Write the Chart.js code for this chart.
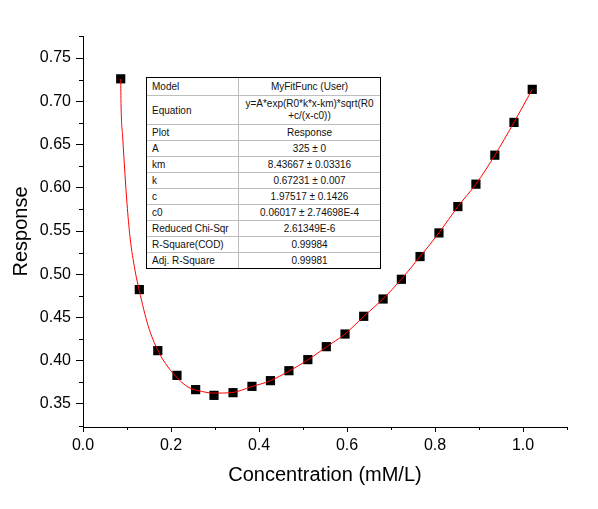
<!DOCTYPE html>
<html>
<head>
<meta charset="utf-8">
<script src="https://cdn.jsdelivr.net/npm/chart.js@4"></script>
<style>
  body { margin: 0; background: #fff; }
  #wrap { position: relative; width: 598px; height: 509px; }
  #fitTable {
    position: absolute; left: 146px; top: 77px; width: 233px;
    border: 1px solid #000; background: #fff;
    font-family: 'Liberation Sans', Arial, sans-serif; font-size: 10px; color: #111;
  }
  .row { display: flex; box-sizing: border-box; border-top: 1px solid #bdbdbd; }
  .row:first-child { border-top: none; }
  .lab { width: 92px; box-sizing: border-box; border-right: 1px solid #bdbdbd; padding-left: 5px; display: flex; align-items: center; }
  .val { flex: 1; text-align: center; display: flex; align-items: center; justify-content: center; line-height: 12px; }
</style>
</head>
<body>
<div id="wrap">
  <canvas id="fitChart" width="598" height="509"></canvas>
  <div id="fitTable"></div>
</div>
<script>
// measured points (Concentration, Response)
const conc = [0.0857, 0.128, 0.170, 0.2136, 0.256, 0.2977, 0.341, 0.384, 0.426, 0.468, 0.511, 0.553,
              0.5955, 0.638, 0.682, 0.7236, 0.766, 0.809, 0.852, 0.893, 0.936, 0.9795, 1.021];
const resp = [0.726, 0.4823, 0.4117, 0.3831, 0.3666, 0.3600, 0.3631, 0.3704, 0.3770, 0.3885, 0.4013, 0.4163,
              0.4309, 0.4514, 0.4714, 0.4942, 0.5205, 0.5478, 0.5783, 0.6042, 0.6377, 0.6756, 0.7138];

// fitted curve
const fitX = [0.0857, 0.0864, 0.0902, 0.0948, 0.1000, 0.1068, 0.1182, 0.128, 0.1477, 0.170, 0.1932, 0.2159,
              0.2386, 0.2691, 0.2993, 0.3373, 0.383, 0.426, 0.468, 0.511, 0.553, 0.5955, 0.638, 0.682,
              0.7236, 0.766, 0.809, 0.852, 0.893, 0.936, 0.9795, 1.021];
const fitY = [0.726, 0.6976, 0.6589, 0.6204, 0.5818, 0.5432, 0.5046, 0.4810, 0.4410, 0.4120, 0.3927, 0.3793,
              0.3696, 0.3646, 0.3626, 0.3631, 0.3700, 0.3770, 0.3880, 0.4010, 0.4160, 0.4310, 0.4512, 0.4716,
              0.4942, 0.5205, 0.5478, 0.5783, 0.6042, 0.6377, 0.6756, 0.7138];

const xTicks = [0.0, 0.2, 0.4, 0.6, 0.8, 1.0];
const xMinor = [0.1, 0.3, 0.5, 0.7, 0.9, 1.1];
const yTicks = [0.35, 0.40, 0.45, 0.50, 0.55, 0.60, 0.65, 0.70, 0.75];
const yMinor = [0.325, 0.375, 0.425, 0.475, 0.525, 0.575, 0.625, 0.675, 0.725, 0.775];

const tableLabels = ['Model', 'Equation', 'Plot', 'A', 'km', 'k', 'c', 'c0', 'Reduced Chi-Sqr', 'R-Square(COD)', 'Adj. R-Square'];
const tableValues = ['MyFitFunc (User)', 'y=A*exp(R0*k*x-km)*sqrt(R0<br>+c/(x-c0))', 'Response', '325 \u00b1 0',
                     '8.43667 \u00b1 0.03316', '0.67231 \u00b1 0.007', '1.97517 \u00b1 0.1426', '0.06017 \u00b1 2.74698E-4',
                     '2.61349E-6', '0.99984', '0.99981'];

// results table
const tbl = document.getElementById('fitTable');
tableLabels.forEach((lab, i) => {
    const row = document.createElement('div');
    row.className = 'row';
    row.style.height = (i === 0 ? 17 : i === 1 ? 29 : 16) + 'px';
    row.innerHTML = '<div class="lab">' + lab + '</div><div class="val">' + tableValues[i] + '</div>';
    tbl.appendChild(row);
});

const FONT = "'Liberation Sans', Arial, sans-serif";

// short minor ticks on both axes
const minorTicks = {
    id: 'minorTicks',
    afterDraw(chart) {
        const ctx = chart.ctx;
        const xs = chart.scales.x, ys = chart.scales.y;
        ctx.save();
        ctx.strokeStyle = '#000';
        ctx.lineWidth = 1;
        ctx.beginPath();
        for (const v of xMinor) {
            const px = Math.round(xs.getPixelForValue(v)) + 0.5;
            ctx.moveTo(px, xs.top);
            ctx.lineTo(px, xs.top + 3);
        }
        for (const v of yMinor) {
            const py = Math.round(ys.getPixelForValue(v)) + 0.5;
            ctx.moveTo(ys.right, py);
            ctx.lineTo(ys.right - 4, py);
        }
        ctx.stroke();
        ctx.restore();
    }
};

const ctx = document.getElementById('fitChart').getContext('2d');
const myChart = new Chart(ctx, {
    type: 'scatter',
    data: {
        datasets: [{
            label: 'Fit',
            data: fitX.map((x, i) => ({x: x, y: fitY[i]})),
            showLine: true,
            borderColor: '#ff0000',
            borderWidth: 1,
            pointRadius: 0,
            cubicInterpolationMode: 'monotone',
            order: 0
        }, {
            label: 'Response',
            data: conc.map((x, i) => ({x: x, y: resp[i]})),
            pointStyle: 'rect',
            pointRadius: 6.5,
            backgroundColor: '#000',
            borderWidth: 0,
            order: 1
        }]
    },
    options: {
        responsive: false,
        animation: false,
        devicePixelRatio: 1,
        layout: { padding: { left: 0, right: 31, top: 36, bottom: 0 } },
        plugins: { legend: { display: false }, tooltip: { enabled: false } },
        scales: {
            x: {
                type: 'linear', min: 0, max: 1.1,
                afterBuildTicks: s => { s.ticks = xTicks.map(v => ({value: v})); },
                afterFit: s => { s.height = 82; },
                border: { color: '#000', width: 1 },
                grid: { drawOnChartArea: false, tickLength: 5, tickColor: '#000' },
                ticks: { color: '#000', font: { family: FONT, size: 16 }, padding: 4, maxRotation: 0,
                         callback: v => v.toFixed(1) },
                title: { display: true, text: 'Concentration (mM/L)', color: '#000',
                         font: { family: FONT, size: 20 }, padding: { bottom: 22 } }
            },
            y: {
                type: 'linear', min: 0.3234, max: 0.7755,
                afterBuildTicks: s => { s.ticks = yTicks.map(v => ({value: v})); },
                afterFit: s => { s.width = 83; },
                border: { color: '#000', width: 1 },
                grid: { drawOnChartArea: false, tickLength: 7, tickColor: '#000' },
                ticks: { color: '#000', font: { family: FONT, size: 16 }, padding: 5,
                         callback: v => v.toFixed(2) },
                title: { display: true, text: 'Response', color: '#000',
                         font: { family: FONT, size: 20 }, padding: { top: 9 } }
            }
        }
    },
    plugins: [minorTicks]
});
</script>
</body>
</html>
